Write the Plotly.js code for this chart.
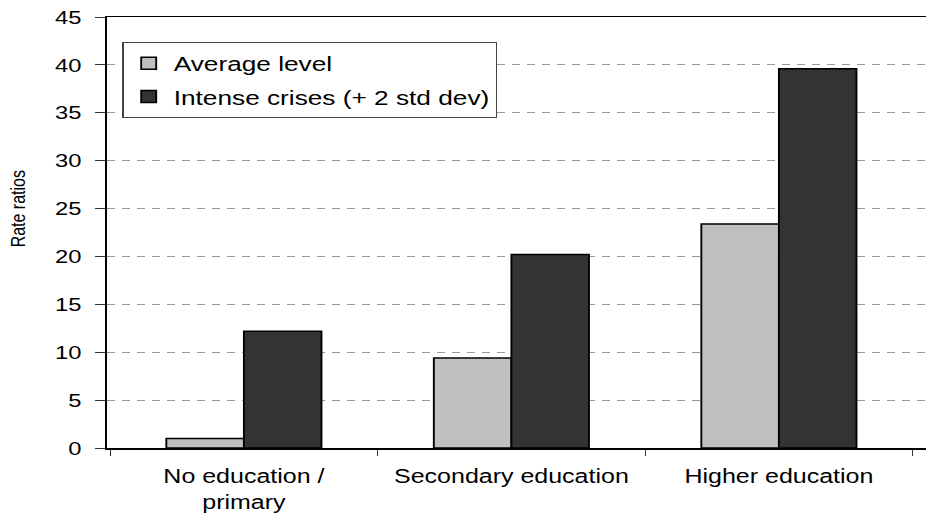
<!DOCTYPE html>
<html><head><meta charset="utf-8">
<script src="https://cdn.plot.ly/plotly-3.0.1.min.js"></script>
<style>
html,body{margin:0;padding:0;overflow:hidden;background:#fff;}
#wrap{width:926px;height:515px;overflow:hidden;position:relative;}
#chart{width:741px;height:515px;transform:scaleX(1.2497);transform-origin:0 0;}
</style></head><body><div id="wrap"><div id="chart"></div></div>
<script>
const categories = ["No education /<br>primary", "Secondary education", "Higher education"];
const seriesNames = ["Average level", "Intense crises (+ 2 std dev)"];
const averageLevel = [1.0, 9.4, 23.4];
const intenseCrises = [12.2, 20.2, 39.6];
const yTickValues = [0, 5, 10, 15, 20, 25, 30, 35, 40, 45];
const yTickLabels = ["0", "5", "10", "15", "20", "25", "30", "35", "40", "45"];
const yTitle = "Rate ratios";

const font = "Liberation Sans, Arial, Helvetica, sans-serif";

const traces = [
  {type: "bar", name: seriesNames[0], x: categories, y: averageLevel, legendgroup: "a",
   marker: {color: "#c0c0c0", line: {color: "#000", width: 1.5}}, hoverinfo: "none"},
  {type: "bar", name: seriesNames[1], x: categories, y: intenseCrises, legendgroup: "b",
   marker: {color: "#333333", line: {color: "#000", width: 1.5}}, hoverinfo: "none"}
];

const layout = {
  width: 741, height: 515,
  margin: {l: 86, r: 0, t: 17, b: 67, pad: 0},
  paper_bgcolor: "#fff", plot_bgcolor: "#fff",
  font: {family: font, color: "#000", size: 19},
  barmode: "group", bargap: 0.42, bargroupgap: 0,
  showlegend: true,
  legend: {x: 0.0183, y: 0.942, xanchor: "left", yanchor: "top",
    bordercolor: "#444", borderwidth: 1, bgcolor: "#fff",
    font: {family: font, size: 21, color: "#000"}, tracegroupgap: 3, traceorder: "grouped"},
  xaxis: {type: "category", range: [-0.51, 2.55], tickson: "boundaries",
    showline: true, linecolor: "#000", linewidth: 1.5, mirror: true,
    ticks: "outside", ticklen: 6, tickcolor: "#333", tickwidth: 1, ticklabelstandoff: 10,
    showgrid: false, zeroline: false, tickfont: {family: font, size: 20, color: "#000"}},
  yaxis: {range: [0, 45], tickvals: yTickValues, ticktext: yTickLabels,
    showline: true, linecolor: "#000", linewidth: 2, mirror: false,
    ticks: "outside", ticklen: 8, tickcolor: "#333", tickwidth: 1, ticklabelstandoff: 7,
    showgrid: true, gridcolor: "#999", gridwidth: 1, griddash: "6px,6px",
    zeroline: false, tickfont: {family: font, size: 19, color: "#000"}},
  annotations: [{text: yTitle, xref: "paper", yref: "paper", x: (14.4 - 86) / 655, y: (448 - 209) / 431,
    xanchor: "center", yanchor: "middle", textangle: -90, showarrow: false,
    font: {family: font, size: 16, color: "#000"}}]
};

Plotly.newPlot("chart", traces, layout, {staticPlot: true, displayModeBar: false});
</script></body></html>
